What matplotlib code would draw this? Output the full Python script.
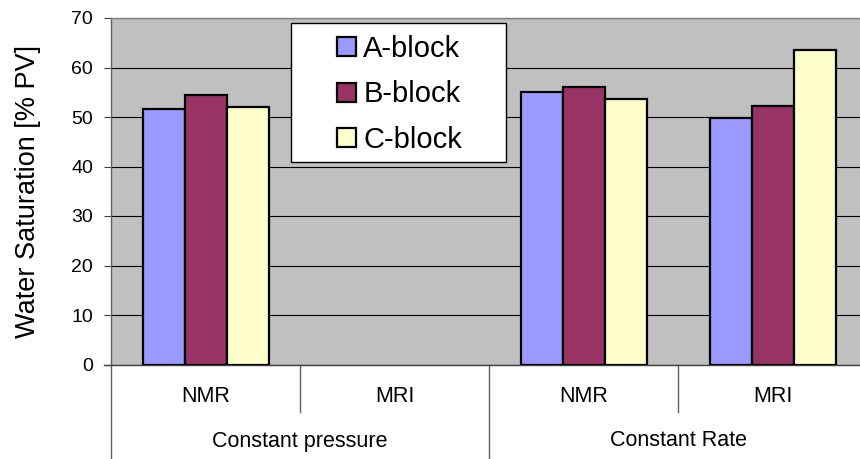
"""Water saturation by block, grouped by method and flow regime"""

#%% packages
import numpy as np
import matplotlib
matplotlib.use('Agg')
import matplotlib.pyplot as plt
from matplotlib.patches import Rectangle

plt.rcParams['font.family'] = ['Liberation Sans', 'DejaVu Sans']

#%% data
list_methods = ['NMR', 'MRI', 'NMR', 'MRI']
list_regimes = ['Constant pressure', 'Constant Rate']
list_blocks = ['A-block', 'B-block', 'C-block']
a_block = [51.6, np.nan, 55.1, 49.7]
b_block = [54.4, np.nan, 56.0, 52.3]
c_block = [52.0, np.nan, 53.6, 63.6]
list_colors = ['#9999FF', '#993366', '#FFFFCC']

#%% plot
fig = plt.figure(figsize=(8.6, 4.59), dpi=100)
ax = fig.add_axes([111/860, 1 - 364.5/459, 756/860, 346.5/459])
ax.set_facecolor('#C0C0C0')

width = 1 / 4.5
x_pos = np.arange(len(list_methods)) + 0.5
for j, (vals, name, col) in enumerate(zip([a_block, b_block, c_block], list_blocks, list_colors)):
    ax.bar(x_pos + (j - 1) * width, vals, width=width, color=col,
           edgecolor='black', linewidth=1.6, label=name, zorder=3)

ax.set_xlim(0, len(list_methods))
ax.set_ylim(0, 70)
ax.set_yticks(np.arange(0, 71, 10))
ax.yaxis.grid(True, color='black', linewidth=0.8, zorder=1)
ax.set_axisbelow(True)
ax.set_xticks([])
ax.tick_params(axis='y', direction='out', length=5, width=0.8, color='#404040',
               labelsize=14, pad=8)

for side in ['top', 'right']:
    ax.spines[side].set_color('#808080')
ax.spines['left'].set_color('#606060')
ax.spines['bottom'].set_color('#404040')
for side in ax.spines:
    ax.spines[side].set_linewidth(1.0)

ax.set_ylabel('Water Saturation [% PV]', fontsize=19.5)
ax.yaxis.set_label_coords(-0.093, 0.5)

# two-level category axis below the plot
trans = ax.get_xaxis_transform()
y_inner = (364.5 - 412) / 346.5
y_outer = (364.5 - 470) / 346.5
for i, method in enumerate(list_methods):
    ax.text(x_pos[i], (364.5 - 396) / 346.5, method, transform=trans,
            ha='center', va='center', fontsize=15.5)
for i in range(len(list_methods) + 1):
    y_end = y_outer if i % 2 == 0 else y_inner
    ax.plot([i, i], [0, y_end], transform=trans, color='#606060',
            linewidth=1.0, clip_on=False)
ax.plot([-7/189, 0], [0, 0], transform=trans, color='#404040',
        linewidth=1.0, clip_on=False)
for k, regime in enumerate(list_regimes):
    ax.text(2 * k + 1, (364.5 - 441) / 346.5, regime, transform=trans,
            ha='center', va='center', fontsize=15.5)

# legend box
ax.add_patch(Rectangle((291/860, 1 - 162/459), 215/860, 139.3/459,
                       transform=fig.transFigure, facecolor='white',
                       edgecolor='black', linewidth=1.0, zorder=4,
                       clip_on=False))
leg = ax.legend(loc='center left', bbox_to_anchor=(337/860, 1 - 94.5/459),
                bbox_transform=fig.transFigure, frameon=False, fontsize=21,
                borderpad=0, borderaxespad=0, handlelength=0.65,
                handleheight=0.65, handletextpad=0.25, labelspacing=0.6)
leg.set_zorder(5)
for p in leg.get_patches():
    p.set_linewidth(1.6)

plt.savefig('out.png', dpi=100)
